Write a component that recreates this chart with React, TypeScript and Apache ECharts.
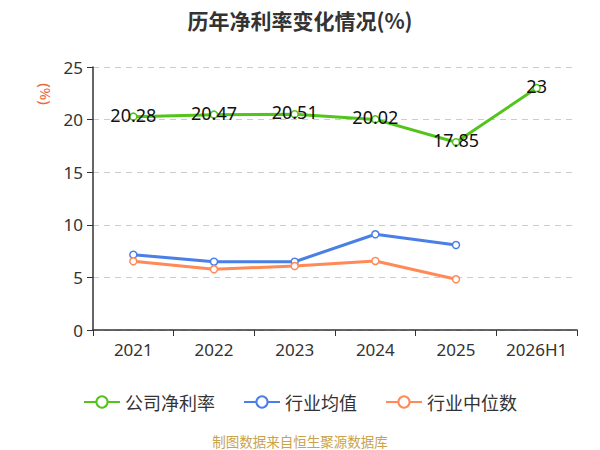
import { useEffect, useRef } from "react";
import * as echarts from "echarts";

const categories = ["2021", "2022", "2023", "2024", "2025", "2026H1"];
const companyRate = [20.28, 20.47, 20.51, 20.02, 17.85, 23];
const industryAvg = [7.16, 6.49, 6.49, 9.1, 8.08];
const industryMedian = [6.53, 5.77, 6.08, 6.56, 4.82];
const yTicks = [0, 5, 10, 15, 20, 25];

const FONT = "'Noto Sans', 'Noto Sans CJK SC', sans-serif";
const CJK = "'Noto Sans CJK SC', sans-serif";

export default function App() {
    const chartRef = useRef<HTMLDivElement>(null);

    useEffect(() => {
        document.body.style.margin = "0";
        if (!chartRef.current) return;
        const chart = echarts.init(chartRef.current, undefined, { renderer: "svg" });

        const lineSeries = (name: string, data: number[], color: string, withLabel: boolean) => ({
            name,
            type: "line" as const,
            data,
            symbol: "circle",
            symbolSize: 7,
            lineStyle: { width: 3, color },
            itemStyle: { color: "#fff", borderColor: color, borderWidth: 1.5 },
            label: withLabel
                ? {
                    show: true,
                    position: "inside" as const,
                    offset: [0, -2],
                    color: "#111",
                    fontSize: 18,
                    fontFamily: FONT,
                }
                : { show: false },
        });

        chart.setOption({
            animation: false,
            title: {
                text: "历年净利率变化情况(%)",
                left: "center",
                top: 4,
                textStyle: {
                    fontSize: 21,
                    fontWeight: "bold",
                    color: "#333",
                    fontFamily: CJK,
                },
            },
            grid: { left: 93, right: 23, top: 67, bottom: 120 },
            xAxis: {
                type: "category",
                data: categories,
                boundaryGap: true,
                axisLine: { lineStyle: { color: "#333", width: 1.5 } },
                axisTick: { show: true, alignWithLabel: false, length: 6, lineStyle: { color: "#333" } },
                axisLabel: { color: "#333", fontSize: 17, fontFamily: FONT, margin: 11 },
            },
            yAxis: {
                type: "value",
                min: yTicks[0],
                max: yTicks[yTicks.length - 1],
                interval: 5,
                axisLine: { show: true, lineStyle: { color: "#333", width: 1.5 } },
                axisTick: { show: true, length: 6, lineStyle: { color: "#333" } },
                axisLabel: { color: "#333", fontSize: 17, fontFamily: FONT, margin: 10 },
                splitLine: { lineStyle: { color: "#ccc", type: [6, 5], width: 1.2 } },
            },
            legend: {
                bottom: 34,
                left: "center",
                itemWidth: 36,
                itemHeight: 14,
                itemGap: 28,
                textStyle: { color: "#333", fontSize: 18, fontFamily: CJK },
                data: ["公司净利率", "行业均值", "行业中位数"],
            },
            graphic: [
                {
                    type: "text",
                    x: 46,
                    y: 94,
                    rotation: -Math.PI / 2,
                    style: {
                        text: "(%)",
                        fill: "#e8683a",
                        fontSize: 15,
                        fontFamily: FONT,
                        align: "center",
                        verticalAlign: "middle",
                    },
                },
                {
                    type: "text",
                    x: 300,
                    y: 441,
                    style: {
                        text: "制图数据来自恒生聚源数据库",
                        fill: "#c9a24a",
                        fontSize: 13.5,
                        fontFamily: CJK,
                        align: "center",
                        verticalAlign: "middle",
                    },
                },
            ],
            series: [
                lineSeries("公司净利率", companyRate, "#52c41a", true),
                lineSeries("行业均值", industryAvg, "#4a7fe8", false),
                lineSeries("行业中位数", industryMedian, "#ff8a57", false),
            ],
        });

        return () => chart.dispose();
    }, []);

    return <div ref={chartRef} style={{ width: 600, height: 450 }} />;
}
